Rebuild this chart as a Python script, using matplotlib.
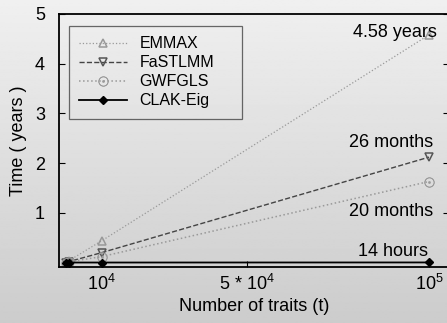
import numpy as np
import matplotlib
matplotlib.use('Agg')
from matplotlib import pyplot as plt

plt.rcParams['font.family'] = ['Liberation Sans', 'DejaVu Sans']
plt.rcParams['mathtext.fontset'] = 'custom'
plt.rcParams['mathtext.rm'] = 'Liberation Sans'
plt.rcParams['mathtext.it'] = 'Liberation Sans'

# number of traits
traits = [100, 1000, 10000, 100000]
# time in years
emmax = [0.0, 0.04, 0.44, 4.58]
fastlmm = [0.0, 0.02, 0.2, 2.12]
gwfgls = [0.0, 0.015, 0.12, 1.63]
clak = [0.0, 0.0, 0.0, 0.0016]

xticks = [10000, 50000, 100000]
xticklabels = ['$10^4$', '5 * $10^4$', '$10^5$']
yticks = [1, 2, 3, 4, 5]

fig = plt.figure(figsize=(4.47, 3.23), dpi=100)

# gray gradient background
bg = fig.add_axes([0, 0, 1, 1], zorder=-10)
grad = np.linspace(0.94, 0.80, 256).reshape(-1, 1)
bg.imshow(grad, aspect='auto', cmap='gray', vmin=0, vmax=1, extent=[0, 1, 0, 1])
bg.axis('off')

ax = fig.add_axes([59/447, 1-267/323, (449-59)/447, (267-14)/323])
ax.set_facecolor('none')

ax.plot(traits, emmax, ':', color='#999999', lw=0.9, marker='^', ms=6,
        mfc='none', mec='#999999', mew=1.1, label='EMMAX')
ax.plot(traits, fastlmm, '--', color='#444444', lw=1.0, marker='v', ms=6,
        mfc='none', mec='#555555', mew=1.1, label='FaSTLMM')
ax.plot(traits, gwfgls, ':', color='#999999', lw=1.1, marker='$\\odot$', ms=7,
        mec='#999999', mew=0.4, label='GWFGLS')
ax.plot(traits, clak, '-', color='black', lw=1.3, marker='D', ms=4.5,
        mfc='black', mec='black', label='CLAK-Eig')

ax.set_xlim(-1800, 105500)
ax.set_ylim(-0.09, 5)
ax.set_xticks(xticks)
ax.set_xticklabels(xticklabels)
ax.set_yticks(yticks)
ax.tick_params(axis='both', direction='in', length=4, labelsize=13, width=0.8)
ax.tick_params(axis='y', right=True, pad=10)
ax.tick_params(axis='x', pad=5)
for s in ['left', 'bottom', 'top']:
    ax.spines[s].set_linewidth(1.3)
ax.spines['right'].set_visible(False)

ax.set_xlabel('Number of traits (t)', fontsize=13, labelpad=3)
ax.set_ylabel('Time ( years )', fontsize=13, labelpad=6)

ax.text(102300, 4.63, '4.58 years', ha='right', va='center', fontsize=13)
ax.text(101200, 2.41, '26 months', ha='right', va='center', fontsize=13)
ax.text(101200, 1.02, '20 months', ha='right', va='center', fontsize=13)
ax.text(99700, 0.22, '14 hours', ha='right', va='center', fontsize=13)

leg = ax.legend(loc='upper left',
                bbox_to_anchor=(69/447, 1-118/323, 173/447, 92/323),
                bbox_transform=fig.transFigure, mode='expand',
                fontsize=11.5, frameon=True,
                fancybox=False, handlelength=3.0, borderpad=0.65,
                labelspacing=0.25, handletextpad=0.75, borderaxespad=0)
leg.get_frame().set_facecolor('none')
leg.get_frame().set_edgecolor('#444444')
leg.get_frame().set_linewidth(0.9)

fig.savefig('out.png', dpi=100)
